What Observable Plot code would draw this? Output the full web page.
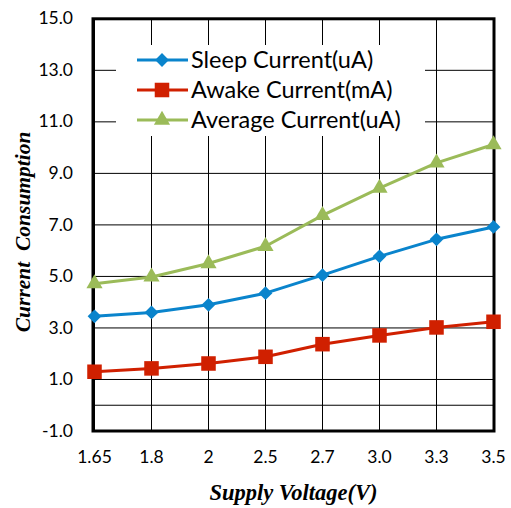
<!DOCTYPE html>
<html><head><meta charset="utf-8">
<script src="https://cdn.jsdelivr.net/npm/d3@7"></script>
<script src="https://cdn.jsdelivr.net/npm/@observablehq/plot@0.6"></script>
<style>
body{margin:0;background:#fff}
#wrap{position:relative;width:511px;height:508px}
#legend{position:absolute;left:116px;top:45px;width:309px;height:91px;background:#fff}
</style></head><body><div id="wrap"></div>
<script>
const voltages = ["1.65","1.8","2","2.5","2.7","3.0","3.3","3.5"];
const sleepCurrent = [3.45,3.6,3.9,4.35,5.05,5.78,6.44,6.92];
const awakeCurrent = [1.3,1.43,1.62,1.88,2.37,2.71,3.02,3.24];
const averageCurrent = [4.72,4.98,5.5,6.17,7.37,8.43,9.41,10.12];
const yTicks = [-1,1,3,5,7,9,11,13,15];
const yGrid = [0,1,3,5,7,9,11,13];
const seriesNames = ["Sleep Current(uA)","Awake Current(mA)","Average Current(uA)"];
const seriesColors = ["#0A84CC","#D02000","#9BBB59"];
const seriesSymbols = ["diamond2","square","triangle"];
const seriesR = [6.2,8.2,6.0];
const xTitle = "Supply Voltage(V)";
const yTitle = "Current\u00a0\u00a0Consumption";

const seriesValues = [sleepCurrent, awakeCurrent, averageCurrent];
const series = seriesNames.map((name,i)=>({
  name, color: seriesColors[i], symbol: seriesSymbols[i], r: seriesR[i],
  data: voltages.map((v,j)=>({v, value: seriesValues[i][j]}))
}));

const marks = [
  Plot.ruleY(yGrid, {stroke:"#000", strokeWidth:1}),
  Plot.ruleX(voltages, {stroke:"#000", strokeWidth:1}),
  Plot.frame({stroke:"#000", strokeWidth:3}),
];
for (const s of series) {
  marks.push(Plot.line(s.data, {x:"v", y:"value", stroke:s.color, strokeWidth:3}));
  marks.push(Plot.dot(s.data, {x:"v", y:"value", symbol:()=>s.symbol, fill:s.color, stroke:"none", r:s.r}));
}
marks.push(Plot.text([xTitle], {frameAnchor:"bottom", dy:62, text:d=>d, textAnchor:"middle", fontFamily:"Liberation Serif", fontWeight:"bold", fontStyle:"italic", fontSize:22.5, fill:"#000", lineAnchor:"middle"}));
marks.push(Plot.text([yTitle], {frameAnchor:"left", dx:-70, dy:7, rotate:-90, text:d=>d, textAnchor:"middle", fontFamily:"Liberation Serif", fontWeight:"bold", fontStyle:"italic", fontSize:21.5, fill:"#000", lineAnchor:"middle"}));

const chart = Plot.plot({
  width:511, height:508,
  marginLeft:92.5, marginRight:17.5, marginTop:18.3, marginBottom:77.5,
  style:{fontFamily:"Lato", fontSize:"17.5px", color:"#000", background:"#fff"},
  x:{type:"point", domain:voltages, padding:0, tickSize:0, tickPadding:20, label:null},
  y:{domain:[-1,15], ticks:yTicks, tickFormat:d=>d.toFixed(1), tickSize:0, tickPadding:20, label:null},
  symbol:{type:"identity"},
  marks
});
const wrap = document.getElementById("wrap");
wrap.appendChild(chart);

const lg = document.createElement("div");
lg.id = "legend";
wrap.appendChild(lg);
const svg = d3.select(lg).append("svg").attr("width",309).attr("height",91);
const symMap = {diamond2:d3.symbolDiamond2, square:d3.symbolSquare, triangle:d3.symbolTriangle};
series.forEach((s,i)=>{
  const cy = 15 + i*30;
  const g = svg.append("g").attr("transform",`translate(0,${cy})`);
  g.append("line").attr("x1",21).attr("x2",72).attr("y1",0).attr("y2",0).attr("stroke",s.color).attr("stroke-width",3);
  g.append("path").attr("transform","translate(46,0)").attr("d", d3.symbol(symMap[s.symbol], s.r*s.r*Math.PI)()).attr("fill",s.color);
  g.append("text").attr("x",75).attr("y",0).attr("dy","0.36em").attr("font-family","Lato").attr("font-size",23.5).attr("fill","#000").text(s.name);
});
</script></body></html>
